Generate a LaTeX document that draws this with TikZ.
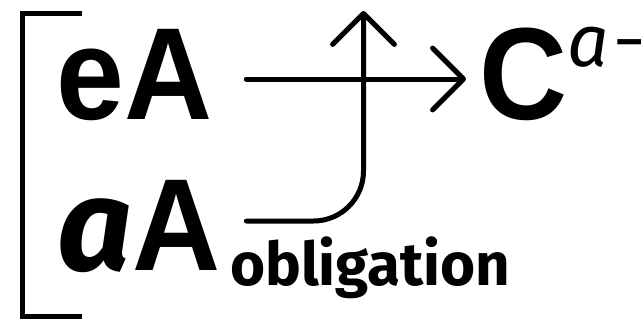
\documentclass[tikz,border=0pt]{standalone}
\usepackage{fontspec}
\setmainfont{Liberation Sans}
\newfontfamily\headfont[FakeStretch=0.93]{Liberation Sans}
\newfontfamily\subfont{Fira Sans}
\usetikzlibrary{arrows.meta}

\tikzset{
  big/.style={inner sep=0pt, font=\fontsize{37.3}{40}\headfont\bfseries},
  sub/.style={inner sep=0pt, font=\fontsize{17.1}{18}\subfont\bfseries},
  arr/.style={line width=0.05cm, line cap=round,
    -{Straight Barb[length=8.8pt, width=17.6pt, round]}},
}

\begin{document}
\begin{tikzpicture}

  \useasboundingbox (0,0) rectangle (6.41,3.22);

  \coordinate (b1) at (0.82, 3.09);
  \coordinate (b2) at (0.22, 3.09);
  \coordinate (b3) at (0.22, 0.06);
  \coordinate (b4) at (0.82, 0.06);

  \draw[line width=0.05cm] (b1) -- (b2) -- (b3) -- (b4);

  \node[big, anchor=base west] (eA) at (0.56, 2.03) {eA};
  \node[big, anchor=base west] (aA) at (0.57, 0.52) {{\subfont\itshape a}A};
  \node[sub, anchor=base west] (obl) at ([shift={(0.08,-0.15)}]aA.base east) {obligation};
  \node[big, anchor=base west] (C) at (4.79, 2.03)
    {C\raisebox{0.53cm}{\fontsize{20.8}{22}\subfont\mdseries\itshape a\kern1.5pt\headfont\upshape −}};

  \coordinate (up) at (3.635, 3.11);

%  \draw (up) node {up};

  \draw[arr] ([shift={(0.33,0.40)}]eA.base east) -- ([shift={(-0.13,0.40)}]C.base west);
  \draw[arr, rounded corners=0.5cm] ([shift={(0.25,0.49)}]aA.base east) -| (up);

\end{tikzpicture}
\end{document}
